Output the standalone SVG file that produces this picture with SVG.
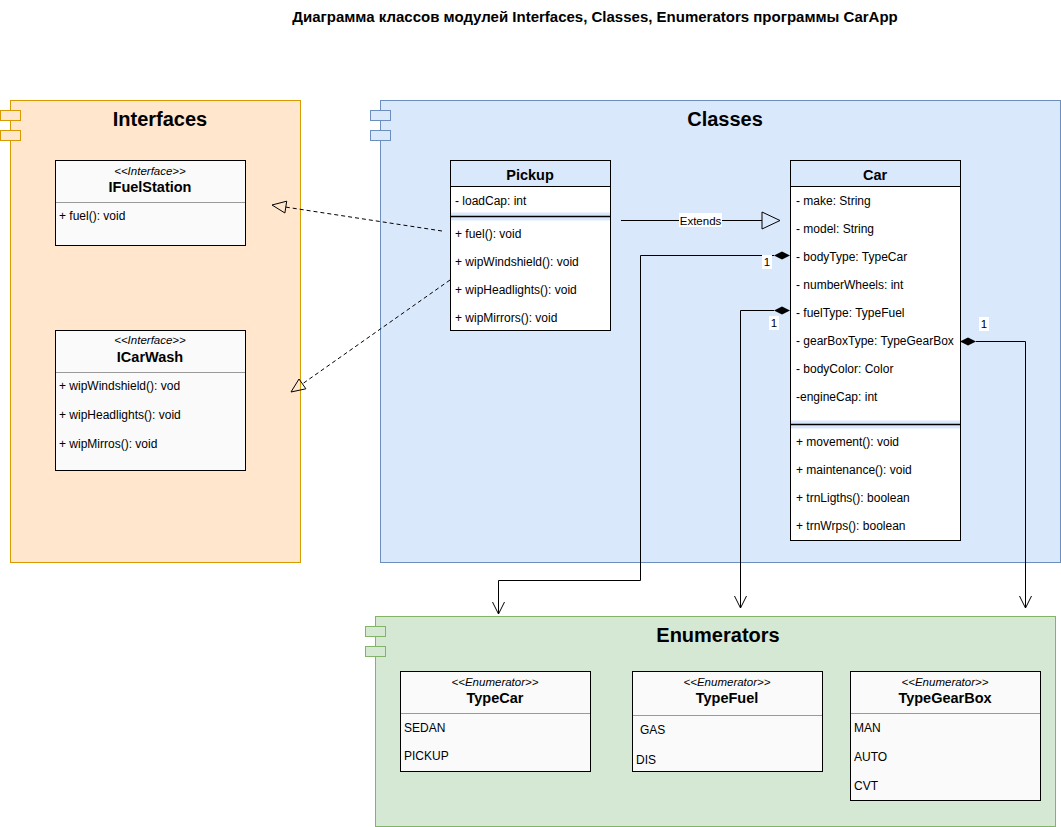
<svg xmlns="http://www.w3.org/2000/svg" width="1061" height="827" viewBox="0 0 1061 827">
<style>
text{font-family:"Liberation Sans",Arial,sans-serif;fill:#000}
.title{font-size:15px;font-weight:bold}
.pkgt{font-size:20px;font-weight:bold;text-anchor:middle}
.name{font-size:14.5px;font-weight:bold;text-anchor:middle}
.ster{font-size:11.5px;font-style:italic;text-anchor:middle}
.item{font-size:12px}
.lbl{font-size:11.5px;text-anchor:middle}
.box{stroke:#000;stroke-width:1}
.div{stroke:#999;stroke-width:1}
.edge{fill:none;stroke:#000;stroke-width:1}
.dash{fill:none;stroke:#000;stroke-width:1;stroke-dasharray:4 3}
</style>
<rect width="1061" height="827" fill="#ffffff"/>
<text class="title" x="595" y="22" text-anchor="middle">Диаграмма классов модулей Interfaces, Classes, Enumerators программы CarApp</text>

<g id="pkg-interfaces">
<rect x="10.5" y="100.5" width="290" height="462" fill="#ffe6cc" stroke="#d79b00"/>
<rect x="0.5" y="110.5" width="20" height="10" fill="#ffe6cc" stroke="#d79b00"/>
<rect x="0.5" y="130.5" width="20" height="10" fill="#ffe6cc" stroke="#d79b00"/>
<text class="pkgt" x="160" y="126">Interfaces</text>
</g>
<g id="pkg-classes">
<rect x="380.5" y="100.5" width="680" height="462" fill="#dae8fc" stroke="#6c8ebf"/>
<rect x="370.5" y="110.5" width="20" height="10" fill="#dae8fc" stroke="#6c8ebf"/>
<rect x="370.5" y="130.5" width="20" height="10" fill="#dae8fc" stroke="#6c8ebf"/>
<text class="pkgt" x="725" y="126">Classes</text>
</g>
<g id="pkg-enumerators">
<rect x="375.5" y="616.5" width="680" height="210" fill="#d5e8d4" stroke="#82b366"/>
<rect x="365.5" y="626.5" width="20" height="10" fill="#d5e8d4" stroke="#82b366"/>
<rect x="365.5" y="646.5" width="20" height="10" fill="#d5e8d4" stroke="#82b366"/>
<text class="pkgt" x="718" y="642">Enumerators</text>
</g>

<g id="IFuelStation">
<rect class="box" x="55.5" y="160.5" width="190" height="85" fill="#fafafa"/>
<line class="div" x1="56" y1="202.5" x2="245" y2="202.5"/>
<text class="ster" x="150" y="175">&lt;&lt;Interface&gt;&gt;</text>
<text class="name" x="150" y="192">IFuelStation</text>
<text class="item" x="59" y="220">+ fuel(): void</text>
</g>

<g id="ICarWash">
<rect class="box" x="55.5" y="330.5" width="190" height="140" fill="#fafafa"/>
<line class="div" x1="56" y1="372.5" x2="245" y2="372.5"/>
<text class="ster" x="150" y="344">&lt;&lt;Interface&gt;&gt;</text>
<text class="name" x="150" y="362">ICarWash</text>
<text class="item" x="59" y="390">+ wipWindshield(): vod</text>
<text class="item" x="59" y="419">+ wipHeadlights(): void</text>
<text class="item" x="59" y="448">+ wipMirros(): void</text>
</g>

<g id="Pickup">
<rect x="450.5" y="186.5" width="160" height="26" fill="#ffffff"/>
<rect x="450.5" y="220.5" width="160" height="110" fill="#ffffff"/>
<rect class="box" x="450.5" y="160.5" width="160" height="170" fill="none"/>
<line class="box" x1="450" y1="186.5" x2="611" y2="186.5"/>
<line x1="451" y1="216.5" x2="610" y2="216.5" stroke="#000" stroke-width="1.5"/>
<text class="name" x="530" y="180">Pickup</text>
<text class="item" x="455" y="205">- loadCap: int</text>
<text class="item" x="455" y="238">+ fuel(): void</text>
<text class="item" x="455" y="266">+ wipWindshield(): void</text>
<text class="item" x="455" y="294">+ wipHeadlights(): void</text>
<text class="item" x="455" y="322">+ wipMirrors(): void</text>
</g>

<g id="Car">
<rect x="790.5" y="186.5" width="170" height="234" fill="#ffffff"/>
<rect x="790.5" y="428.5" width="170" height="112" fill="#ffffff"/>
<rect class="box" x="790.5" y="160.5" width="170" height="380" fill="none"/>
<line class="box" x1="790" y1="186.5" x2="961" y2="186.5"/>
<line x1="791" y1="424.5" x2="960" y2="424.5" stroke="#000" stroke-width="1.5"/>
<text class="name" x="875" y="180">Car</text>
<text class="item" x="796" y="205">- make: String</text>
<text class="item" x="796" y="233">- model: String</text>
<text class="item" x="796" y="261">- bodyType: TypeCar</text>
<text class="item" x="796" y="289">- numberWheels: int</text>
<text class="item" x="796" y="317">- fuelType: TypeFuel</text>
<text class="item" x="796" y="345">- gearBoxType: TypeGearBox</text>
<text class="item" x="796" y="373">- bodyColor: Color</text>
<text class="item" x="796" y="401">-engineCap: int</text>
<text class="item" x="796" y="446">+ movement(): void</text>
<text class="item" x="796" y="474">+ maintenance(): void</text>
<text class="item" x="796" y="502">+ trnLigths(): boolean</text>
<text class="item" x="796" y="530">+ trnWrps(): boolean</text>
</g>

<g id="TypeCar">
<rect class="box" x="400.5" y="671.5" width="190" height="100" fill="#fafafa"/>
<line class="div" x1="401" y1="713.5" x2="590" y2="713.5"/>
<text class="ster" x="495" y="686">&lt;&lt;Enumerator&gt;&gt;</text>
<text class="name" x="495" y="703">TypeCar</text>
<text class="item" x="404" y="732">SEDAN</text>
<text class="item" x="404" y="760">PICKUP</text>
</g>

<g id="TypeFuel">
<rect class="box" x="632.5" y="671.5" width="190" height="100" fill="#fafafa"/>
<line class="div" x1="633" y1="715.5" x2="822" y2="715.5"/>
<text class="ster" x="727" y="686">&lt;&lt;Enumerator&gt;&gt;</text>
<text class="name" x="727" y="703">TypeFuel</text>
<text class="item" x="640" y="734">GAS</text>
<text class="item" x="636" y="764">DIS</text>
</g>

<g id="TypeGearBox">
<rect class="box" x="850.5" y="671.5" width="190" height="129" fill="#fafafa"/>
<line class="div" x1="851" y1="713.5" x2="1040" y2="713.5"/>
<text class="ster" x="945" y="686">&lt;&lt;Enumerator&gt;&gt;</text>
<text class="name" x="945" y="703">TypeGearBox</text>
<text class="item" x="854" y="732">MAN</text>
<text class="item" x="854" y="761">AUTO</text>
<text class="item" x="854" y="790">CVT</text>
</g>

<g id="connectors">
<!-- Pickup realizes IFuelStation -->
<path class="dash" d="M442,231 L285.8,207.1"/>
<polygon points="272,205 284.9,213 286.7,201.2" fill="none" stroke="#000"/>
<!-- Pickup realizes ICarWash -->
<path class="dash" d="M450,280 L302.4,383.9"/>
<polygon points="291,392 305.9,388.8 299,379" fill="none" stroke="#000"/>
<!-- Extends -->
<path class="edge" d="M621,220.5 H762"/>
<polygon points="762,212 780,220.5 762,229" fill="none" stroke="#000"/>
<rect x="679" y="213" width="43" height="14" fill="#ffffff"/>
<text class="lbl" x="700.5" y="224.5">Extends</text>
<!-- bodyType -> TypeCar -->
<polygon points="790,255.5 782,251.5 774,255.5 782,259.5" fill="#000"/>
<path class="edge" d="M774,255.5 H640.5 V580.5 H498.5 V614"/>
<polyline class="edge" points="492.5,602 498.5,614 504.5,602"/>
<rect x="762" y="255" width="10" height="14" fill="#ffffff"/>
<text class="lbl" x="767" y="266">1</text>
<!-- fuelType -> TypeFuel -->
<polygon points="790,310.5 782,306.5 774,310.5 782,314.5" fill="#000"/>
<path class="edge" d="M774,310.5 H740.5 V608"/>
<polyline class="edge" points="734.5,596 740.5,608 746.5,596"/>
<rect x="769" y="316" width="10" height="14" fill="#ffffff"/>
<text class="lbl" x="774" y="327">1</text>
<!-- gearBoxType -> TypeGearBox -->
<polygon points="960,341.5 968,337.5 976,341.5 968,345.5" fill="#000"/>
<path class="edge" d="M976,341.5 H1025.5 V608"/>
<polyline class="edge" points="1019.5,596 1025.5,608 1031.5,596"/>
<rect x="979" y="317" width="10" height="14" fill="#ffffff"/>
<text class="lbl" x="984" y="328">1</text>
</g>
</svg>
